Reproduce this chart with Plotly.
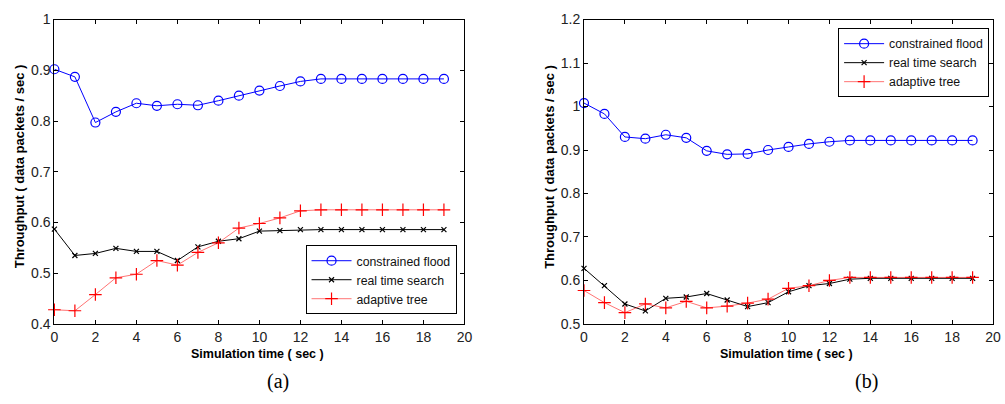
import plotly.graph_objects as go

time_s = list(range(20))

# Chart (a)
a_flood = [0.902, 0.887, 0.797, 0.818, 0.835, 0.830, 0.833, 0.831, 0.840, 0.850,
           0.860, 0.869, 0.878, 0.883, 0.883, 0.883, 0.883, 0.883, 0.883, 0.883]
a_search = [0.587, 0.535, 0.539, 0.549, 0.543, 0.543, 0.525, 0.552, 0.563, 0.568,
            0.583, 0.584, 0.586, 0.586, 0.586, 0.586, 0.586, 0.586, 0.586, 0.586]
a_tree = [0.428, 0.426, 0.458, 0.491, 0.498, 0.525, 0.516, 0.541, 0.560, 0.589,
          0.598, 0.609, 0.623, 0.625, 0.625, 0.625, 0.625, 0.625, 0.625, 0.625]

# Chart (b)
b_flood = [1.008, 0.983, 0.930, 0.926, 0.935, 0.928, 0.898, 0.890, 0.891, 0.900,
           0.907, 0.914, 0.919, 0.922, 0.922, 0.922, 0.922, 0.922, 0.922, 0.922]
b_search = [0.628, 0.588, 0.546, 0.530, 0.559, 0.562, 0.570, 0.555, 0.540, 0.549,
            0.574, 0.588, 0.593, 0.603, 0.605, 0.605, 0.605, 0.605, 0.605, 0.605]
b_tree = [0.577, 0.549, 0.526, 0.546, 0.537, 0.552, 0.537, 0.541, 0.548, 0.557,
          0.582, 0.588, 0.600, 0.607, 0.607, 0.607, 0.607, 0.607, 0.607, 0.607]

series_names = ["constrained flood", "real time search", "adaptive tree"]
x_ticks = list(range(0, 21, 2))
y_title = "Throughput ( data packets / sec )"
x_title = "Simulation time ( sec )"
panel_labels = ["(a)", "(b)"]

SANS = "Liberation Sans, Arial, sans-serif"
SERIF = "Liberation Serif, Times New Roman, serif"

styles = [
    dict(line=dict(color="#0000ff", width=1),
         marker=dict(symbol="circle-open", size=9, color="#0000ff", line=dict(width=1.2))),
    dict(line=dict(color="#000000", width=1),
         marker=dict(symbol="x-thin-open", size=5, color="#000000", line=dict(width=1.2))),
    dict(line=dict(color="rgba(255,0,0,0.55)", width=1),
         marker=dict(symbol="cross-thin-open", size=9, color="#ff0000", line=dict(width=1.2))),
]

fig = go.Figure()
for ys, xa, ya, lg in [((a_flood, a_search, a_tree), "x", "y", "legend"),
                       ((b_flood, b_search, b_tree), "x2", "y2", "legend2")]:
    for name, vals, st in zip(series_names, ys, styles):
        fig.add_trace(go.Scatter(x=time_s, y=vals, name=name, mode="lines+markers",
                                 xaxis=xa, yaxis=ya, legend=lg, cliponaxis=False, **st))

W, H = 1005, 404
def px(x):
    return max(0.0, min(1.0, x / W))
def py(y):
    return max(0.0, min(1.0, 1 - y / H))

axis_common = dict(showline=True, linecolor="black", linewidth=1, mirror="ticks",
                   ticks="inside", ticklen=4, tickcolor="black", showgrid=False,
                   zeroline=False, tickfont=dict(family=SANS, size=14, color="#222"))

legend_common = dict(xanchor="right", yanchor="top", bgcolor="white",
                     bordercolor="black", borderwidth=1,
                     font=dict(family=SANS, size=12.3, color="#111"),
                     tracegroupgap=0, itemwidth=40)

fig.update_layout(
    width=W, height=H, margin=dict(l=0, r=0, t=0, b=0),
    paper_bgcolor="white", plot_bgcolor="white",
    xaxis=dict(domain=[px(51), px(466)], range=[0, 20], tickvals=x_ticks, anchor="y", **axis_common),
    yaxis=dict(domain=[py(329), py(12)], range=[0.4, 1.0], dtick=0.1, anchor="x", **axis_common),
    xaxis2=dict(domain=[px(587), px(1001)], range=[0, 20], tickvals=x_ticks, anchor="y2", **axis_common),
    yaxis2=dict(domain=[py(329), py(12)], range=[0.5, 1.2], dtick=0.1, anchor="x2", **axis_common),
    legend=dict(x=px(458), y=py(247), **legend_common),
    legend2=dict(x=px(997), y=py(21), **legend_common),
    showlegend=True,
)

annots = []
for cx, ycx, tx, lbl in [(16, 257, 277, panel_labels[0]), (552, 792, 873, panel_labels[1])]:
    annots.append(dict(x=px(cx), y=py(165), xref="paper", yref="paper", text=f"<b>{y_title}</b>",
                       textangle=-90, showarrow=False, font=dict(family=SANS, size=13, color="black"),
                       xanchor="center", yanchor="middle"))
    annots.append(dict(x=px(ycx), y=py(360), xref="paper", yref="paper", text=f"<b>{x_title}</b>",
                       showarrow=False, font=dict(family=SANS, size=12.5, color="black"),
                       xanchor="center", yanchor="middle"))
    annots.append(dict(x=px(tx), y=py(389), xref="paper", yref="paper", text=lbl,
                       showarrow=False, font=dict(family=SERIF, size=20, color="black"),
                       xanchor="center", yanchor="middle"))
fig.update_layout(annotations=annots)

fig.write_html("out.html")
